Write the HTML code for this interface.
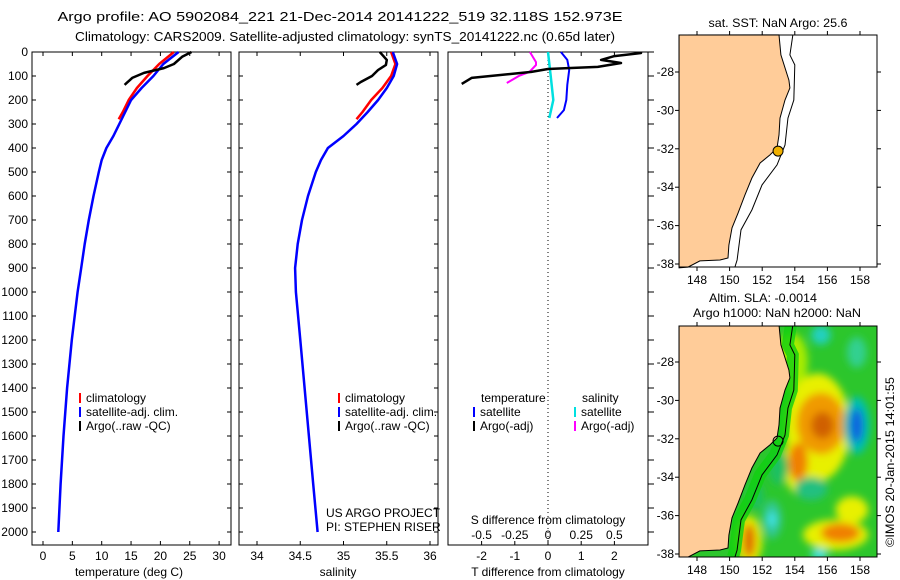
<!DOCTYPE html>
<html><head><meta charset="utf-8"><style>
html,body{margin:0;padding:0;background:#fff;}
svg{display:block;font-family:"Liberation Sans",sans-serif;font-size:12px;}
</style></head><body>
<svg id="c" width="900" height="580" viewBox="0 0 900 580">
<defs>
<clipPath id="clipB"><rect x="679" y="326" width="198" height="231"/></clipPath>
<filter id="blur" x="-20%" y="-20%" width="140%" height="140%"><feGaussianBlur stdDeviation="4"/></filter>
</defs>
<text x="340" y="21" text-anchor="middle" font-size="13" textLength="565" lengthAdjust="spacingAndGlyphs">Argo profile: AO 5902084_221 21-Dec-2014 20141222_519 32.118S 152.973E</text>
<text x="345" y="41" text-anchor="middle" font-size="13" textLength="540" lengthAdjust="spacingAndGlyphs">Climatology: CARS2009. Satellite-adjusted climatology: synTS_20141222.nc (0.65d later)</text>
<g id="g"></g>
</svg>
<script>
// ---- data ----
const depthTicks=[0,100,200,300,400,500,600,700,800,900,1000,1100,1200,1300,1400,1500,1600,1700,1800,1900,2000];
const tempTicks=[0,5,10,15,20,25,30];
const salTicks=[34,34.5,35,35.5,36];
const tdiffTicks=[-2,-1,0,1,2];
const sdiffTicks=[-0.5,-0.25,0,0.25,0.5];
const sdiffLabels=["-0.5","-0.25","0","0.25","0.5"];
const satDepth=[0,50,100,150,200,250,300,350,400,450,500,600,700,800,900,1000,1200,1400,1600,1800,2000];
const satTemp=[23.1,20.5,18.8,16.8,15,14,13,12,10.8,10.0,9.5,8.6,7.8,7.1,6.5,5.9,4.9,4.1,3.5,3.0,2.6];
const satSal=[35.57,35.62,35.58,35.5,35.4,35.28,35.15,35.0,34.82,34.74,34.68,34.59,34.52,34.47,34.44,34.45,34.5,34.55,34.6,34.65,34.7];
const climDepth=[0,50,100,150,200,250,280];
const climTemp=[22.3,19.8,17.8,16,14.6,13.6,12.9];
const climSal=[35.55,35.6,35.55,35.45,35.32,35.22,35.15];
const argoDepth=[0,20,50,67,87,108,130,137];
const argoTemp=[25.3,23.7,22.3,20.6,17.2,15.2,14.2,13.9];
const argoSalDepth=[0,33,54,75,100,125,137];
const argoSal=[35.42,35.5,35.49,35.4,35.33,35.2,35.15];
const argoTdDepth=[0,4,17,33,46,62,67,71,83,108,133];
const argoTdiff=[2.8,2.8,2.0,1.6,2.2,1.5,0.6,0.0,-0.5,-2.3,-2.6];
const argoSdDepth=[0,42,54,83,100,129];
const argoSdiff=[-0.136,-0.09,-0.09,-0.14,-0.22,-0.31];
const satTdDepth=[0,33,75,137,200,242,275];
const satTdiff=[0.39,0.58,0.64,0.58,0.55,0.48,0.27];
const satSdDepth=[0,100,200,275];
const satSdiff=[0.0,0.02,0.04,0.01];
const lonTicks=[148,150,152,154,156,158];
const latTicks=[-28,-30,-32,-34,-36,-38];
const coastLon=[153.03,153.15,153.64,153.7,153.4,153.09,153.03,152.91,152.48,151.87,151.37,150.94,150.52,150.15,149.96,149.9,149.41,148.18,147.45];
const coastLat=[-26.07,-27.11,-28.42,-28.83,-29.46,-30.4,-31.28,-31.96,-32.32,-32.74,-33.52,-34.41,-35.34,-36.12,-37.01,-37.69,-37.79,-37.84,-38.16];
const contLon=[153.88,153.7,154.0,153.94,153.58,153.4,152.91,151.99,151.37,150.7,150.46,150.33];
const contLat=[-26.07,-27.11,-27.63,-29.46,-30.4,-31.8,-32.84,-33.88,-35.18,-36.22,-37.79,-38.15];
const argoLon=152.973, argoLat=-32.118;
const blobLon=[153.8,155.4,154.3,151.2,156.5,157.5,155.6,154.2,151.2,156.8,155.7,157.8,157.8,152.6,152.6,155.6,155.0,155.5,157.8,153.0,151.6];
const blobLat=[-28,-31.4,-33.3,-37.3,-37,-35.7,-31.2,-33.2,-37.3,-36.9,-31.3,-31.3,-31.3,-36.2,-36.2,-26.6,-34.6,-38,-27.5,-33.5,-35];
const blobRx=[1.0,2.0,1.0,0.8,2.0,1.0,1.5,0.6,0.4,1.2,0.7,0.8,0.4,0.6,0.3,0.6,1.0,0.5,0.6,0.6,0.5];
const blobRy=[1.5,2.8,1.6,1.3,0.8,0.7,1.6,1.0,0.9,0.5,0.7,1.5,0.9,1.0,0.4,0.5,0.6,0.3,0.8,0.9,0.7];
const blobCol=["#a8ec00","#e8f000","#e8f000","#e8f000","#e8f000","#e8f000","#f09a00","#f08000","#e07000","#f08000","#d06000","#00c0b0","#1060e0","#30c890","#40e0e0","#20d0c0","#20c080","#40e0e0","#30d090","#1fc060","#1fc060"];

// ---- helpers ----
const NS="http://www.w3.org/2000/svg";
const G=document.getElementById('g');
const BOT=545;
function el(tag,attrs,parent){const e=document.createElementNS(NS,tag);for(const k in attrs)e.setAttribute(k,attrs[k]);(parent||G).appendChild(e);return e;}
const yD=d=>52+d*0.24;
const xT=t=>43+t*5.87;
const xS=s=>257+(s-34)*86.5;
const xTd=t=>548+t*33.2;
const xSd=s=>548+s*132.8;
const mxA=lon=>697+(lon-148)*16.3;
const myTop=lat=>72+(-28-lat)*19.2;
const myBot=lat=>362+(-28-lat)*19.2;
function line(xs,ys,xf,color,w,name){
  const pts=xs.map((v,i)=>xf(v).toFixed(1)+','+yD(ys[i]).toFixed(1)).join(' ');
  const p=el('polyline',{points:pts,fill:'none',stroke:color,'stroke-width':w,'stroke-linejoin':'round'});
  
  
}
function panel(x0,x1,name){
  const r=el('rect',{x:x0,y:52,width:x1-x0,height:BOT-52,fill:'none',stroke:'#000','stroke-width':1});
  
  
}
panel(32,231,'temperature-panel');panel(239,438,'salinity-panel');panel(448,648,'difference-panel');
depthTicks.forEach(d=>{
  const t=el('text',{x:28,y:yD(d)+4,'text-anchor':'end'});t.textContent=d;
  
  
  [[32,36],[227,231],[239,243],[434,438],[648,654]].forEach(([a,b])=>el('line',{x1:a,x2:b,y1:yD(d),y2:yD(d),stroke:'#000'}));
});
function xticks(vals,labels,xf,ly){
  vals.forEach((v,i)=>{
    const x=xf(v);
    el('line',{x1:x,x2:x,y1:BOT-4,y2:BOT,stroke:'#000'});
    el('line',{x1:x,x2:x,y1:52,y2:56,stroke:'#000'});
    const t=el('text',{x:x,y:ly,'text-anchor':'middle'});t.textContent=labels[i];
    
    
  });
}
xticks(tempTicks,tempTicks.map(String),xT,560);
xticks(salTicks,salTicks.map(String),xS,560);
xticks(tdiffTicks,tdiffTicks.map(String),xTd,560);
sdiffTicks.forEach((v,i)=>{const t=el('text',{x:xSd(v),y:539,'text-anchor':'middle'});t.textContent=sdiffLabels[i];
 
 });
function txt(x,y,s,name,anchor){const t=el('text',{x:x,y:y,'text-anchor':anchor||'start'});t.textContent=s;
 
 return t;}
txt(129,576,'temperature (deg C)','x-axis-title-temperature','middle');
txt(338,576,'salinity','x-axis-title-salinity','middle');
txt(548,576,'T difference from climatology','x-axis-title-t-diff','middle');
txt(548,524,'S difference from climatology','axis-title-s-diff','middle');
txt(326,517,'US ARGO PROJECT','project-label');
txt(326,531,'PI: STEPHEN RISER','pi-label');
el('line',{x1:548,x2:548,y1:52,y2:BOT,stroke:'#000','stroke-dasharray':'1,3'});
line(climTemp,climDepth,xT,'#f00',2.5,'clim-temp-line');
line(satTemp,satDepth,xT,'#00f',2.5,'sat-temp-line');
line(argoTemp,argoDepth,xT,'#000',2.5,'argo-temp-line');
line(climSal,climDepth,xS,'#f00',2.5,'clim-sal-line');
line(satSal,satDepth,xS,'#00f',2.5,'sat-sal-line');
line(argoSal,argoSalDepth,xS,'#000',2.5,'argo-sal-line');
line(satSdiff,satSdDepth,xSd,'#00e0e0',2.5,'sat-sdiff-line');
line(argoSdiff,argoSdDepth,xSd,'#f0f',2,'argo-sdiff-line');
line(satTdiff,satTdDepth,xTd,'#00f',2,'sat-tdiff-line');
line(argoTdiff,argoTdDepth,xTd,'#000',2.5,'argo-tdiff-line');
function leg(x,y,c,s,name){el('line',{x1:x,x2:x,y1:y-9,y2:y+1,stroke:c,'stroke-width':2});txt(x+6,y,s,name);}
[[80,'climatology','#f00'],[80,'satellite-adj. clim.','#00f'],[80,'Argo(..raw -QC)','#000']].forEach((a,i)=>{
  leg(80,402+i*14,a[2],a[1],'legend-entry');leg(339,402+i*14,a[2],a[1],'legend-entry');});
txt(481,402,'temperature','legend-title-temperature');txt(582,402,'salinity','legend-title-salinity');
leg(474,416,'#00f','satellite','legend-entry');leg(474,430,'#000','Argo(-adj)','legend-entry');
leg(575,416,'#00e0e0','satellite','legend-entry');leg(575,430,'#f0f','Argo(-adj)','legend-entry');
function coastPoly(my,close){
  let p=coastLon.map((v,i)=>mxA(v).toFixed(1)+','+my(coastLat[i]).toFixed(1));
  return p.join(' ')+(close?' '+mxA(146.9)+','+my(-38.2)+' '+mxA(146.9)+','+my(-26.07):'');
}
function mapFrame(top,bot,my,name){
  const r=el('rect',{x:679,y:top,width:198,height:bot-top,fill:'none',stroke:'#000'});
  
  
  lonTicks.forEach(l=>{const x=mxA(l);el('line',{x1:x,x2:x,y1:top-4,y2:top,stroke:'#000'});el('line',{x1:x,x2:x,y1:bot,y2:bot+4,stroke:'#000'});
    txt(x,bot+17,String(l),'lon-tick-label','middle');});
  latTicks.forEach(l=>{const y=my(l);el('line',{x1:675,x2:679,y1:y,y2:y,stroke:'#000'});el('line',{x1:877,x2:881,y1:y,y2:y,stroke:'#000'});
    txt(674,y+4,String(l),'lat-tick-label','end');});
}
el('rect',{x:679,y:35,width:198,height:232,fill:'#fff'});
const lt=el('polygon',{points:coastPoly(myTop,true),fill:'#ffcc99',stroke:'#000','stroke-width':1});


el('polyline',{points:contLon.map((v,i)=>mxA(v)+','+myTop(contLat[i])).join(' '),fill:'none',stroke:'#000'});
const m1=el('circle',{cx:mxA(argoLon),cy:myTop(argoLat),r:5,fill:'#f0b000',stroke:'#000'});


mapFrame(35,267,myTop,'sst-map');
const t1=txt(778,27,'sat. SST: NaN Argo: 25.6','sst-map-title','middle');
t1.setAttribute('textLength','139');t1.setAttribute('lengthAdjust','spacingAndGlyphs');
const hb=el('g',{'clip-path':'url(#clipB)'});


el('rect',{x:679,y:326,width:198,height:231,fill:'#2cc62c'},hb);
const bl=el('g',{filter:'url(#blur)'},hb);
blobLon.forEach((l,i)=>el('ellipse',{cx:mxA(l),cy:myBot(blobLat[i]),rx:blobRx[i]*16.3,ry:blobRy[i]*19.2,fill:blobCol[i]},bl));
el('polyline',{points:contLon.map((v,i)=>(mxA(v)-2)+','+myBot(contLat[i])).join(' '),fill:'none',stroke:'#10d010','stroke-width':12,opacity:0.8},hb);
el('polygon',{points:coastPoly(myBot,true),fill:'#ffcc99',stroke:'#000','stroke-width':1},hb);
el('polyline',{points:contLon.map((v,i)=>mxA(v)+','+myBot(contLat[i])).join(' '),fill:'none',stroke:'#000'},hb);
el('circle',{cx:mxA(argoLon),cy:myBot(argoLat),r:5,fill:'none',stroke:'#000'},hb);
mapFrame(326,557,myBot,'sla-map');
const t2=txt(763,302,'Altim. SLA: -0.0014','sla-map-title-1','middle');
t2.setAttribute('textLength','108');t2.setAttribute('lengthAdjust','spacingAndGlyphs');
const t3=txt(777,317,'Argo h1000: NaN h2000: NaN','sla-map-title-2','middle');
t3.setAttribute('textLength','168');t3.setAttribute('lengthAdjust','spacingAndGlyphs');
const cr=txt(0,0,'©IMOS 20-Jan-2015 14:01:55','timestamp-label','middle');
cr.setAttribute('transform','translate(894,462) rotate(-90)');
cr.setAttribute('textLength','170');cr.setAttribute('lengthAdjust','spacingAndGlyphs');
</script>
</body></html>
